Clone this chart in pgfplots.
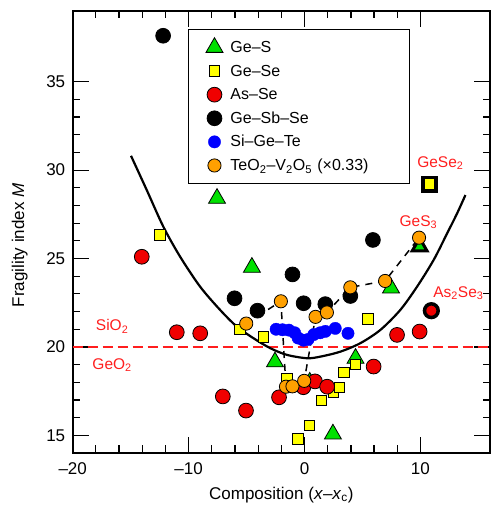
\documentclass[border=0pt]{standalone}
\usepackage{fontspec}
\setmainfont{Liberation Sans}
\usepackage{pgfplots}
\pgfplotsset{compat=1.18}
\definecolor{mygreen}{RGB}{0,225,0}
\definecolor{myorange}{RGB}{255,160,0}
\definecolor{myyellow}{RGB}{255,255,0}
\definecolor{myred}{RGB}{240,0,0}
\definecolor{myblue}{RGB}{0,0,255}
\definecolor{labred}{RGB}{255,30,30}
\begin{document}
\begin{tikzpicture}
\path[use as bounding box] (-72.7pt,-53pt) rectangle (422.3pt,453pt);
\begin{axis}[
  at={(0,0)}, anchor=south west,
  scale only axis, width=417.3pt, height=442pt,
  xmin=-20, xmax=16, ymin=14, ymax=39,
  xtick={-20,-10,0,10}, xticklabels={–20,–10,0,10},
  ytick={15,20,25,30,35}, yticklabels={15,20,25,30,35},
  minor x tick num=4, minor y tick num=4,
  tick align=inside,
  major tick length=16pt, minor tick length=7.5pt,
  every tick/.style={black, line width=1.2pt},
  axis line style={line width=2pt},
  ticklabel style={font=\fontsize{17}{20}\selectfont},
  yticklabel style={xshift=-4pt},
  xticklabel style={yshift=-6pt},
  xlabel={Composition (\textit{x}–\textit{x}\textsubscript{c})},
  ylabel={Fragility index \textit{M}},
  every axis x label/.style={at={(axis description cs:0.5,-0.095)}, anchor=center, font=\fontsize{17}{20}\selectfont},
  every axis y label/.style={at={(axis description cs:-0.127,0.47)}, rotate=90, anchor=center, font=\fontsize{17}{20}\selectfont},
  legend cell align=left,
  legend style={at={(axis description cs:0.2763,0.9593)}, anchor=north west,
    draw=black, line width=1pt, font=\fontsize{16}{19}\selectfont,
    inner xsep=17.5pt, inner ysep=6.2pt, row sep=0pt, /tikz/column sep=5.5pt,
    nodes={inner xsep=2pt, inner ysep=0pt, text height=16.8pt, text depth=6.8pt, text width=160pt}},
]
% reference line y = 20
\addplot[labred, line width=2pt, dash pattern=on 10pt off 5pt, forget plot] coordinates {(-20,20) (16,20)};
% fitted curve
\addplot[black, line width=2.2pt, smooth, forget plot] coordinates {
(-14.97,30.81) (-13.61,28.87) (-12.18,26.80) (-10.73,25.10) (-9.01,23.41) (-7.28,22.09)
(-5.84,21.15) (-4.40,20.49) (-2.96,19.93) (-1.52,19.55) (0.21,19.36) (1.36,19.45)
(3.08,19.73) (4.81,20.21) (6.54,20.96) (8.26,22.09) (9.71,23.41) (11.14,24.92)
(12.30,26.42) (13.16,27.55) (13.88,28.59)};
% Ge-S
\addplot[only marks, mark=triangle*, mark size=9.8pt, line width=0.8pt, mark options={fill=mygreen, draw=black}] coordinates {
(-7.55,28.4) (-4.54,24.5) (-2.55,19.15) (0.45,18.0) (2.45,15.07) (4.4,19.35) (7.46,23.33)};
\addlegendentry{Ge–S}
\addplot[only marks, mark=triangle*, mark size=8.6pt, line width=3pt, mark options={fill=mygreen, draw=black}, forget plot] coordinates {(9.93,25.67)};
% Ge-Se
\addplot[only marks, mark=square*, mark size=5.3pt, line width=0.8pt, mark options={fill=myyellow, draw=black}] coordinates {
(-12.5,26.33) (-5.6,20.98) (-3.55,20.55) (-1.52,18.23) (0.43,15.55) (-0.57,14.8) (1.44,16.97)
(2.5,17.45) (3.0,17.72) (3.4,18.55) (4.4,19.0) (5.45,21.58)};
\addlegendentry{Ge–Se}
\addplot[only marks, mark=square*, mark size=6.6pt, line width=3.5pt, mark options={fill=myyellow, draw=black}, forget plot] coordinates {(10.77,29.2)};
% As-Se
\addplot[only marks, mark=*, mark size=7.4pt, line width=0.8pt, mark options={fill=myred, draw=black}] coordinates {
(-14.04,25.1) (-11.02,20.83) (-9.0,20.77) (-7.05,17.2) (-5.05,16.4) (-2.2,17.15)
(-0.1,17.72) (0.9,18.05) (1.95,17.75) (5.96,18.89) (7.98,20.68) (9.93,20.87)};
\addlegendentry{As–Se}
\addplot[only marks, mark=*, mark size=6.85pt, line width=3.5pt, mark options={fill=myred, draw=black}, forget plot] coordinates {(10.94,22.05)};
% Ge-Sb-Se
\addplot[only marks, mark=*, mark size=7.4pt, line width=0.8pt, mark options={fill=black, draw=black}] coordinates {
(-12.2,37.6) (-6.04,22.75) (-4.06,22.05) (-1.04,24.1) (-0.08,22.47) (1.79,22.42) (3.95,22.88) (5.9,26.05)};
\addlegendentry{Ge–Sb–Se}
% Si-Ge-Te
\addplot[only marks, mark=*, mark size=6.2pt, line width=0.3pt, mark options={fill=myblue, draw=myblue}] coordinates {
(-2.45,21.0) (-1.9,20.97) (-1.35,20.95) (-0.85,20.8) (-0.55,20.5) (-0.1,20.38)
(0.3,20.42) (0.8,20.7) (1.35,20.8) (1.8,20.88) (2.65,21.05) (3.75,20.77)};
\addlegendentry{Si–Ge–Te}
% TeO2-V2O5
\addplot[black, line width=1.5pt, dash pattern=on 7pt off 6pt, forget plot] coordinates {
(-5.03,21.32) (-2.04,22.58) (-1.6,17.75) (-1.04,17.77) (-0.03,18.08) (0.95,21.7)
(1.93,21.95) (3.95,23.37) (6.95,23.73) (9.88,26.18)};
\addplot[only marks, mark=*, mark size=6.6pt, line width=0.8pt, mark options={fill=myorange, draw=black}] coordinates {
(-5.03,21.32) (-2.04,22.58) (-1.6,17.75) (-1.04,17.77) (-0.03,18.08) (0.95,21.7)
(1.93,21.95) (3.95,23.37) (6.95,23.73) (9.88,26.18)};
\addlegendentry{TeO\textsubscript{2}–V\textsubscript{2}O\textsubscript{5} (×0.33)}
% labels
\node[text=labred, font=\fontsize{15.5}{18}\selectfont] at (axis cs:11.72,30.4) {GeSe\textsubscript{2}};
\node[text=labred, font=\fontsize{15.5}{18}\selectfont] at (axis cs:9.82,27.06) {GeS\textsubscript{3}};
\node[text=labred, font=\fontsize{15.5}{18}\selectfont] at (axis cs:13.27,23.05) {As\textsubscript{2}Se\textsubscript{3}};
\node[text=labred, font=\fontsize{15.5}{18}\selectfont] at (axis cs:-16.6,21.15) {SiO\textsubscript{2}};
\node[text=labred, font=\fontsize{15.5}{18}\selectfont] at (axis cs:-16.6,18.98) {GeO\textsubscript{2}};
\end{axis}
\end{tikzpicture}
\end{document}
